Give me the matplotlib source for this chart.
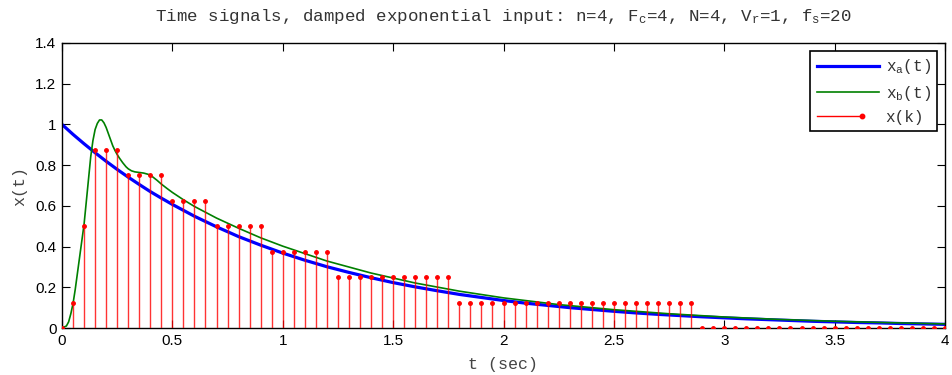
import matplotlib
matplotlib.use("Agg")
import matplotlib.pyplot as plt
from matplotlib.lines import Line2D
from matplotlib.legend_handler import HandlerLine2D
from matplotlib.ticker import FormatStrFormatter

# Continuous input x_a(t)
t_a = [0.0, 0.05, 0.1, 0.15, 0.2, 0.25, 0.3, 0.35, 0.4, 0.45, 0.5, 0.6, 0.7,
       0.8, 0.9, 1.0, 1.1, 1.2, 1.3, 1.4, 1.5, 1.6, 1.7, 1.8, 1.9,
       2.0, 2.1, 2.2, 2.3, 2.4, 2.5, 2.6, 2.7, 2.8, 2.9,
       3.0, 3.1, 3.2, 3.3, 3.4, 3.5, 3.6, 3.7, 3.8, 3.9, 4.0]
x_a = [1.000, 0.951, 0.905, 0.861, 0.819, 0.779, 0.741, 0.705, 0.670, 0.638,
       0.607, 0.549, 0.497, 0.449, 0.407,
       0.368, 0.333, 0.301, 0.273, 0.247, 0.223, 0.202, 0.183, 0.165, 0.150,
       0.135, 0.122, 0.111, 0.100, 0.091, 0.082, 0.074, 0.067, 0.061, 0.055,
       0.050, 0.045, 0.041, 0.037, 0.033, 0.030, 0.027, 0.025, 0.022, 0.020, 0.018]

# Anti-aliasing filter output x_b(t)
t_b = [0.0, 0.02, 0.03, 0.04, 0.05, 0.06, 0.07, 0.08, 0.09, 0.10, 0.11,
       0.12, 0.13, 0.14, 0.15, 0.16, 0.17, 0.18, 0.19, 0.20, 0.21, 0.22,
       0.23, 0.24, 0.25, 0.26, 0.275, 0.29, 0.30, 0.315, 0.33, 0.35, 0.37,
       0.39, 0.41, 0.43, 0.45, 0.475, 0.50, 0.55, 0.60, 0.70, 0.80, 0.90,
       1.0, 1.2, 1.4, 1.6, 1.8, 2.0, 2.25, 2.5, 2.75, 3.0, 3.25, 3.5, 3.75, 4.0]
x_b = [0.0, 0.01, 0.03, 0.07, 0.12, 0.19, 0.27, 0.35, 0.43, 0.51, 0.62,
       0.73, 0.84, 0.92, 0.975, 1.005, 1.022, 1.022, 1.008, 0.985, 0.955, 0.925,
       0.895, 0.872, 0.852, 0.835, 0.812, 0.792, 0.782, 0.772, 0.767, 0.764, 0.761,
       0.755, 0.743, 0.726, 0.707, 0.686, 0.666, 0.63, 0.597, 0.54, 0.49, 0.443,
       0.402, 0.329, 0.27, 0.221, 0.181, 0.148, 0.115, 0.09, 0.07, 0.054, 0.042,
       0.033, 0.026, 0.02]

# Quantized samples x(k), fs = 20 Hz
t_k = [k * 0.05 for k in range(81)]
x_k = ([0.0, 0.125, 0.5] + [0.875] * 3 + [0.75] * 4 + [0.625] * 4 +
       [0.5] * 5 + [0.375] * 6 + [0.25] * 11 + [0.125] * 22 + [0.0] * 23)

x_ticks = [0, 0.5, 1, 1.5, 2, 2.5, 3, 3.5, 4]
y_ticks = [0, 0.2, 0.4, 0.6, 0.8, 1.0, 1.2, 1.4]

mono = "Liberation Mono"
plt.rcParams["mathtext.fontset"] = "custom"
plt.rcParams["mathtext.rm"] = mono
plt.rcParams["mathtext.it"] = mono
plt.rcParams["mathtext.default"] = "rm"
plt.rcParams["font.family"] = ["Liberation Sans", "DejaVu Sans"]


class HandlerStem(HandlerLine2D):
    """Legend handle: short line ending in a dot."""
    def create_artists(self, legend, orig_handle, xdescent, ydescent,
                       width, height, fontsize, trans):
        y = height / 2 - ydescent
        x0 = -xdescent
        x1 = -xdescent + 0.72 * width
        line = Line2D([x0, x1], [y, y], color="red", lw=1.0)
        dot = Line2D([x1], [y], color="red", marker="o", markersize=3.2,
                     linestyle="none")
        line.set_transform(trans)
        dot.set_transform(trans)
        return [line, dot]


fig = plt.figure(figsize=(9.52, 3.75), dpi=100)
ax = fig.add_axes([62 / 952, 1 - 328 / 375, (945 - 62) / 952, (328 - 43) / 375])

ax.plot(t_a, x_a, color=(0, 0, 1), lw=2.3, label="x$_a$(t)", zorder=2,
        solid_joinstyle="round")
ax.plot(t_b, x_b, color=(0, 0.5, 0), lw=1.2, label="x$_b$(t)", zorder=2,
        solid_joinstyle="round")
markerline, stemlines, baseline = ax.stem(t_k, x_k, linefmt="r-",
                                          markerfmt="r.", basefmt=" ")
stemlines.set_linewidth(1.0)
stemlines.set_alpha(0.8)
stemlines.set_zorder(3)
markerline.set_markersize(5)
markerline.set_zorder(4)
baseline.set_visible(False)

ax.set_xlim(0, 4)
ax.set_ylim(0, 1.4)
ax.set_xticks(x_ticks)
ax.set_yticks(y_ticks)
ax.xaxis.set_major_formatter(FormatStrFormatter("%g"))
ax.yaxis.set_major_formatter(FormatStrFormatter("%g"))
ax.tick_params(direction="in", length=6, width=0.8, top=True, right=True,
               labelsize=11, pad=4, colors="black")
for s in ax.spines.values():
    s.set_linewidth(1.0)

ax.set_title("Time signals, damped exponential input: n=4, F$_c$=4, N=4, "
             "V$_r$=1, f$_s$=20", fontfamily=mono, fontsize=12.6, pad=16,
             color="#333333")
ax.set_xlabel("t (sec)", fontfamily=mono, fontsize=12, labelpad=7,
              color="#444444")
ax.set_ylabel("x(t)", fontfamily=mono, fontsize=12, labelpad=6,
              color="#444444")

stem_proxy = Line2D([], [], color="red")
handles, labels = ax.get_legend_handles_labels()
leg = ax.legend([handles[0], handles[1], stem_proxy],
                ["x$_a$(t)", "x$_b$(t)", "x(k)"],
                handler_map={stem_proxy: HandlerStem()},
                loc="upper right", prop={"family": mono, "size": 11.5},
                fancybox=False, framealpha=1, edgecolor="black",
                borderaxespad=0.5, handlelength=3.9, handletextpad=0.4,
                labelspacing=0.45, borderpad=0.4)
leg.get_frame().set_linewidth(1.2)
for txt in leg.get_texts():
    txt.set_color("#333333")

fig.savefig("out.png", dpi=100)
